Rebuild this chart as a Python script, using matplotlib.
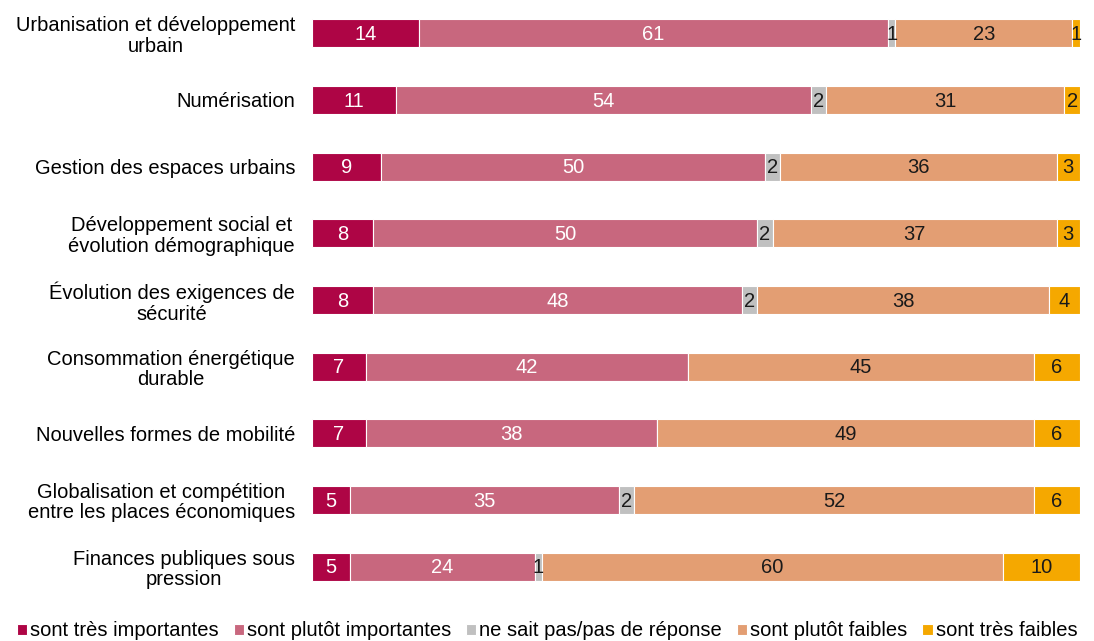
import matplotlib
matplotlib.use("Agg")
import matplotlib.pyplot as plt
import numpy as np

plt.rcParams['font.family'] = ['Liberation Sans', 'DejaVu Sans']

categories = [
    "Urbanisation et développement\nurbain",
    "Numérisation",
    "Gestion des espaces urbains",
    "Développement social et\névolution démographique",
    "Évolution des exigences de\nsécurité",
    "Consommation énergétique\ndurable",
    "Nouvelles formes de mobilité",
    "Globalisation et compétition\nentre les places économiques",
    "Finances publiques sous\npression",
]
series_names = ["sont très importantes", "sont plutôt importantes",
                "ne sait pas/pas de réponse", "sont plutôt faibles", "sont très faibles"]
tres_importantes = [14, 11, 9, 8, 8, 7, 7, 5, 5]
plutot_importantes = [61, 54, 50, 50, 48, 42, 38, 35, 24]
ne_sait_pas = [1, 2, 2, 2, 2, 0, 0, 2, 1]
plutot_faibles = [23, 31, 36, 37, 38, 45, 49, 52, 60]
tres_faibles = [1, 2, 3, 3, 4, 6, 6, 6, 10]

colors = ["#AE0545", "#C8677E", "#C0C0C0", "#E39E73", "#F5A800"]
text_colors = ["white", "white", "#1a1a1a", "#1a1a1a", "#1a1a1a"]

series = [tres_importantes, plutot_importantes, ne_sait_pas, plutot_faibles, tres_faibles]

FS = 14.5

fig = plt.figure(figsize=(10.94, 6.41), dpi=100)
ax = fig.add_axes([0.285, 0.064, 0.702, 0.936])

y = np.arange(len(categories))
left = np.zeros(len(categories))
for vals, name, c, tc in zip(series, series_names, colors, text_colors):
    vals = np.array(vals, dtype=float)
    ax.barh(y, vals, left=left, height=0.42, color=c, edgecolor="white",
            linewidth=0.8, label=name)
    for yi, (l, v) in enumerate(zip(left, vals)):
        if v > 0:
            ax.text(l + v / 2, yi + 0.02, f"{int(v)}", ha="center", va="center",
                    fontsize=FS, color=tc)
    left += vals

ax.set_xlim(0, 100)
ax.set_ylim(len(categories) - 0.5, -0.5)
ax.set_yticks(y)
ax.set_yticklabels(categories, fontsize=FS, ha="right", multialignment="center",
                   linespacing=1.1)
ax.tick_params(axis="y", length=0, pad=12)
ax.set_xticks([])
for s in ax.spines.values():
    s.set_visible(False)

fig.legend(loc="lower center", bbox_to_anchor=(0.5, -0.018), ncol=5, frameon=False,
           fontsize=FS, handlelength=0.5, handleheight=0.5, handletextpad=0.15,
           columnspacing=0.75, borderaxespad=0.2)

fig.savefig("out.png", dpi=100)
